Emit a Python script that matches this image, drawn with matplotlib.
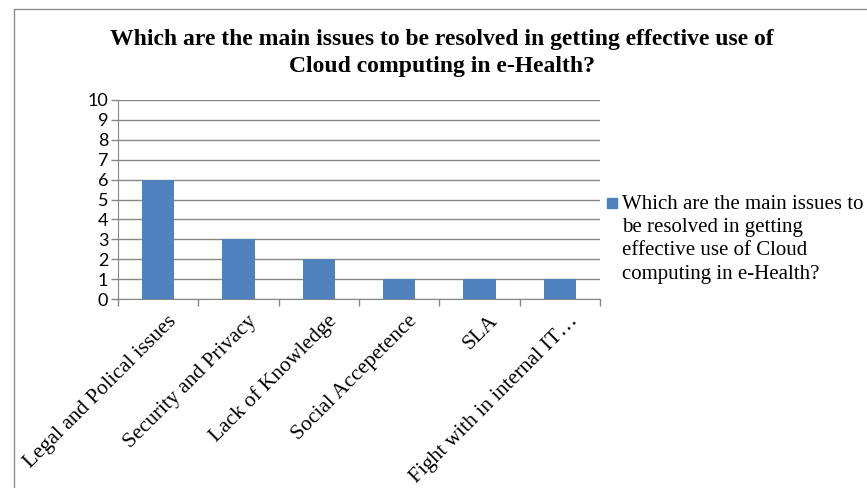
import matplotlib.pyplot as plt
from matplotlib.patches import Rectangle
import numpy as np

title = "Which are the main issues to be resolved in getting effective use of\nCloud computing in e-Health?"
series_name = "Which are the main issues to\nbe resolved in getting\neffective use of Cloud\ncomputing in e-Health?"
categories = ["Legal and Polical issues", "Security and Privacy", "Lack of Knowledge",
              "Social Accepetence", "SLA", "Fight with in internal IT\u2026"]
counts = [6, 3, 2, 1, 1, 1]
y_ticks = list(range(0, 11))

bar_color = "#4F81BD"
grid_color = "#868686"
serif = ["Liberation Serif", "DejaVu Serif"]

fig = plt.figure(figsize=(8.67, 4.88), dpi=100)
fig.patch.set_facecolor("white")

# outer chart border
fig.patches.append(Rectangle((14 / 867, -0.05), 1.0, 1 - 9 / 488 + 0.05, transform=fig.transFigure,
                             fill=False, edgecolor="#8c8c8c", linewidth=1.0))

ax = fig.add_axes([118 / 867, 1 - 299 / 488, (600 - 118) / 867, (299 - 100) / 488])
x = np.arange(len(categories))
ax.bar(x, counts, width=0.4, color=bar_color, zorder=3)

ax.set_xlim(-0.5, len(categories) - 0.5)
ax.set_ylim(0, 10)
ax.set_yticks(y_ticks)
ax.set_yticklabels([str(v) for v in y_ticks], fontsize=13, family=["Lato", "DejaVu Sans"])
ax.yaxis.grid(True, color=grid_color, linewidth=1.0, zorder=0)
ax.tick_params(axis="y", length=5, width=1, color=grid_color, pad=2)

ax.set_xticks(np.arange(-0.5, len(categories)), minor=False)
ax.set_xticklabels([])
ax.tick_params(axis="x", length=5, width=1, color=grid_color)
for i, name in enumerate(categories):
    ax.annotate(name, xy=(i, 0), xycoords=("data", "axes fraction"),
                xytext=(11, -14), textcoords="offset points",
                rotation=45, rotation_mode="anchor", ha="right", va="center",
                fontsize=15.5, family=serif)

for side in ["top", "right"]:
    ax.spines[side].set_visible(False)
ax.spines["left"].set_color(grid_color)
ax.spines["bottom"].set_color(grid_color)

fig.text(442 / 867, 1 - 53 / 488, title, ha="center", va="center", fontsize=17,
         fontweight="bold", family=serif, linespacing=1.4)

# legend drawn by hand so the swatch sits beside the first line
fig.patches.append(Rectangle((607 / 867, 1 - 208 / 488), 10 / 867, 10 / 488,
                             transform=fig.transFigure, color=bar_color))
fig.text(622 / 867, 1 - 195 / 488, series_name, ha="left", va="top", fontsize=15,
         family=serif, linespacing=1.3)

fig.savefig("out.png", dpi=100)
